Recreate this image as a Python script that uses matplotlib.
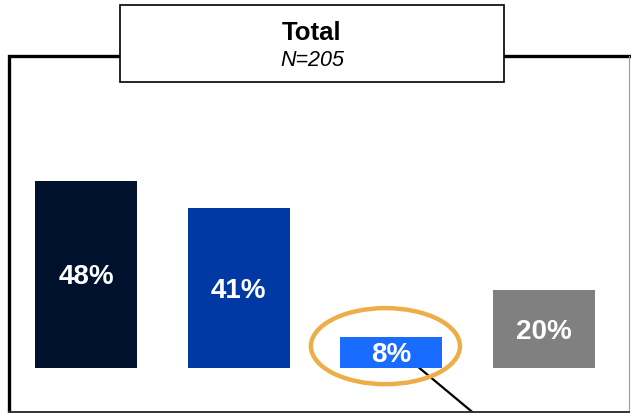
import matplotlib
matplotlib.use("Agg")
import matplotlib.pyplot as plt
from matplotlib.patches import Ellipse, Rectangle
from matplotlib.lines import Line2D

plt.rcParams['font.family'] = ['Liberation Sans', 'DejaVu Sans']

# données
categories = ['A', 'B', 'C', 'D']
valeurs = [48, 41, 8, 20]
couleurs = ['#00112D', '#0039A3', '#1A6BFF', '#808080']
titre = 'Total'
sous_titre = 'N=205'

W, H = 631, 414
fig = plt.figure(figsize=(W / 100, H / 100), dpi=100)
ax = fig.add_axes([0, 0, 1, 1])
ax.set_xlim(-0.563, 3.569)
ax.set_ylim(-11.54, 94.6)
ax.axis('off')

x = range(len(categories))
barres = ax.bar(x, valeurs, width=0.668, color=couleurs, zorder=2)
for b, v in zip(barres, valeurs):
    ax.text(b.get_x() + b.get_width() / 2, v / 2 - 0.4, f'{v}%', ha='center', va='center',
            color='white', fontsize=20, fontweight='bold', zorder=3)

# cercle de mise en avant + trait
ax.add_patch(Ellipse((1.961, 5.6), 0.976, 19.5, fill=False, edgecolor='#EDAE47',
                     linewidth=3.2, zorder=4))
ax.add_line(Line2D([2.168, 2.567], [0.5, -12.5], color='black', linewidth=1.6, zorder=1))

# cadre (coordonnées pixels)
def px(xp, yp):
    return xp / W, 1 - yp / H

fig.add_artist(Line2D(*zip(px(8.5, 413), px(8.5, 56.5), px(631, 56.5)),
                      color='black', linewidth=2.4, solid_joinstyle='miter'))
fig.add_artist(Line2D(*zip(px(628.5, 56.5), px(628.5, 412.5)), color='#999999', linewidth=0.8))
fig.add_artist(Line2D(*zip(px(8.5, 412.5), px(629, 412.5)), color='#333333', linewidth=1.4))

# encadré du titre
x0, y0 = px(119.5, 83)
fig.add_artist(Rectangle((x0, y0), 384 / W, 77 / H, facecolor='white',
                         edgecolor='black', linewidth=1.2, transform=fig.transFigure, zorder=5))
fig.text(*px(311.5, 32.5), titre, ha='center', va='center', fontsize=18.5,
         fontweight='bold', zorder=6)
fig.text(*px(312, 61), sous_titre, ha='center', va='center', fontsize=15.5,
         style='italic', zorder=6)

fig.savefig('out.png', dpi=100)
